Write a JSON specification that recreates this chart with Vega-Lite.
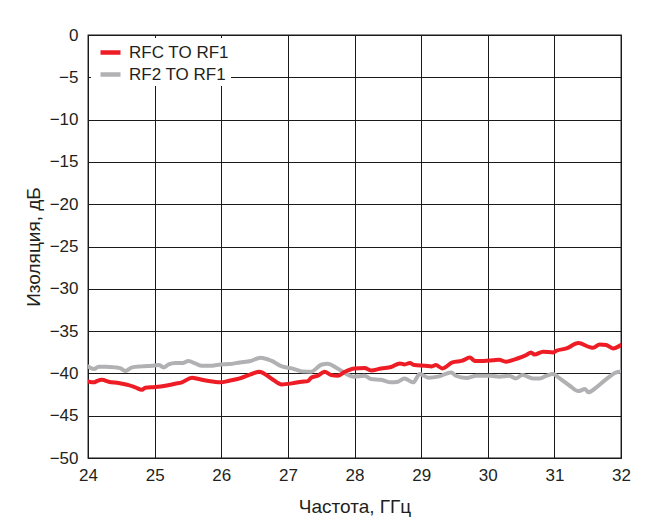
{
  "$schema": "https://vega.github.io/schema/vega-lite/v6.json",
  "width": 533,
  "height": 423,
  "autosize": "none",
  "padding": {"left": 88, "top": 35, "right": 25, "bottom": 73},
  "background": "white",
  "config": {
    "font": "Liberation Sans",
    "view": {"stroke": "#1a1a1a", "strokeWidth": 1.3},
    "axis": {
      "labelFont": "Liberation Sans",
      "titleFont": "Liberation Sans",
      "labelFontSize": 17,
      "titleFontSize": 19,
      "titleFontWeight": "normal",
      "labelColor": "#231f20",
      "titleColor": "#231f20",
      "grid": true,
      "gridColor": "#1a1a1a",
      "gridWidth": 1,
      "gridOpacity": 1,
      "ticks": false,
      "domain": false,
      "labelFlush": false,
      "labelOverlap": false
    },
    "legend": {
      "labelFont": "Liberation Sans",
      "labelFontSize": 17,
      "labelColor": "#231f20"
    }
  },
  "data": {
    "values": [
      {"f": 24.00, "v": -39.17, "s": "RF2 TO RF1"},
      {"f": 24.09, "v": -39.49, "s": "RF2 TO RF1"},
      {"f": 24.16, "v": -39.21, "s": "RF2 TO RF1"},
      {"f": 24.26, "v": -39.21, "s": "RF2 TO RF1"},
      {"f": 24.41, "v": -39.29, "s": "RF2 TO RF1"},
      {"f": 24.49, "v": -39.41, "s": "RF2 TO RF1"},
      {"f": 24.56, "v": -39.72, "s": "RF2 TO RF1"},
      {"f": 24.66, "v": -39.29, "s": "RF2 TO RF1"},
      {"f": 24.81, "v": -39.17, "s": "RF2 TO RF1"},
      {"f": 24.96, "v": -39.09, "s": "RF2 TO RF1"},
      {"f": 25.06, "v": -39.02, "s": "RF2 TO RF1"},
      {"f": 25.14, "v": -39.29, "s": "RF2 TO RF1"},
      {"f": 25.21, "v": -38.94, "s": "RF2 TO RF1"},
      {"f": 25.31, "v": -38.78, "s": "RF2 TO RF1"},
      {"f": 25.41, "v": -38.78, "s": "RF2 TO RF1"},
      {"f": 25.51, "v": -38.54, "s": "RF2 TO RF1"},
      {"f": 25.61, "v": -38.82, "s": "RF2 TO RF1"},
      {"f": 25.71, "v": -39.09, "s": "RF2 TO RF1"},
      {"f": 25.86, "v": -39.09, "s": "RF2 TO RF1"},
      {"f": 25.99, "v": -38.94, "s": "RF2 TO RF1"},
      {"f": 26.12, "v": -38.90, "s": "RF2 TO RF1"},
      {"f": 26.28, "v": -38.70, "s": "RF2 TO RF1"},
      {"f": 26.44, "v": -38.54, "s": "RF2 TO RF1"},
      {"f": 26.59, "v": -38.15, "s": "RF2 TO RF1"},
      {"f": 26.75, "v": -38.50, "s": "RF2 TO RF1"},
      {"f": 26.91, "v": -39.17, "s": "RF2 TO RF1"},
      {"f": 27.06, "v": -39.41, "s": "RF2 TO RF1"},
      {"f": 27.21, "v": -39.76, "s": "RF2 TO RF1"},
      {"f": 27.35, "v": -39.80, "s": "RF2 TO RF1"},
      {"f": 27.50, "v": -38.98, "s": "RF2 TO RF1"},
      {"f": 27.60, "v": -38.86, "s": "RF2 TO RF1"},
      {"f": 27.72, "v": -39.29, "s": "RF2 TO RF1"},
      {"f": 27.84, "v": -39.88, "s": "RF2 TO RF1"},
      {"f": 27.99, "v": -40.39, "s": "RF2 TO RF1"},
      {"f": 28.15, "v": -40.28, "s": "RF2 TO RF1"},
      {"f": 28.25, "v": -40.67, "s": "RF2 TO RF1"},
      {"f": 28.40, "v": -40.75, "s": "RF2 TO RF1"},
      {"f": 28.55, "v": -41.06, "s": "RF2 TO RF1"},
      {"f": 28.65, "v": -40.98, "s": "RF2 TO RF1"},
      {"f": 28.75, "v": -40.59, "s": "RF2 TO RF1"},
      {"f": 28.88, "v": -41.06, "s": "RF2 TO RF1"},
      {"f": 28.98, "v": -40.08, "s": "RF2 TO RF1"},
      {"f": 29.11, "v": -40.51, "s": "RF2 TO RF1"},
      {"f": 29.27, "v": -40.35, "s": "RF2 TO RF1"},
      {"f": 29.45, "v": -39.88, "s": "RF2 TO RF1"},
      {"f": 29.52, "v": -40.28, "s": "RF2 TO RF1"},
      {"f": 29.68, "v": -40.55, "s": "RF2 TO RF1"},
      {"f": 29.83, "v": -40.28, "s": "RF2 TO RF1"},
      {"f": 30.05, "v": -40.28, "s": "RF2 TO RF1"},
      {"f": 30.17, "v": -40.39, "s": "RF2 TO RF1"},
      {"f": 30.32, "v": -40.28, "s": "RF2 TO RF1"},
      {"f": 30.42, "v": -40.59, "s": "RF2 TO RF1"},
      {"f": 30.52, "v": -40.20, "s": "RF2 TO RF1"},
      {"f": 30.68, "v": -40.59, "s": "RF2 TO RF1"},
      {"f": 30.78, "v": -40.59, "s": "RF2 TO RF1"},
      {"f": 30.88, "v": -40.28, "s": "RF2 TO RF1"},
      {"f": 30.98, "v": -40.08, "s": "RF2 TO RF1"},
      {"f": 31.08, "v": -40.59, "s": "RF2 TO RF1"},
      {"f": 31.23, "v": -41.46, "s": "RF2 TO RF1"},
      {"f": 31.36, "v": -42.09, "s": "RF2 TO RF1"},
      {"f": 31.46, "v": -41.85, "s": "RF2 TO RF1"},
      {"f": 31.51, "v": -42.24, "s": "RF2 TO RF1"},
      {"f": 31.63, "v": -41.65, "s": "RF2 TO RF1"},
      {"f": 31.78, "v": -40.67, "s": "RF2 TO RF1"},
      {"f": 31.93, "v": -39.88, "s": "RF2 TO RF1"},
      {"f": 32.00, "v": -39.76, "s": "RF2 TO RF1"},

      {"f": 24.00, "v": -40.94, "s": "RFC TO RF1"},
      {"f": 24.09, "v": -41.06, "s": "RFC TO RF1"},
      {"f": 24.14, "v": -40.87, "s": "RFC TO RF1"},
      {"f": 24.21, "v": -40.75, "s": "RFC TO RF1"},
      {"f": 24.31, "v": -40.98, "s": "RFC TO RF1"},
      {"f": 24.46, "v": -41.14, "s": "RFC TO RF1"},
      {"f": 24.61, "v": -41.38, "s": "RFC TO RF1"},
      {"f": 24.71, "v": -41.65, "s": "RFC TO RF1"},
      {"f": 24.81, "v": -41.93, "s": "RFC TO RF1"},
      {"f": 24.86, "v": -41.69, "s": "RFC TO RF1"},
      {"f": 25.01, "v": -41.61, "s": "RFC TO RF1"},
      {"f": 25.16, "v": -41.46, "s": "RFC TO RF1"},
      {"f": 25.31, "v": -41.22, "s": "RFC TO RF1"},
      {"f": 25.41, "v": -41.06, "s": "RFC TO RF1"},
      {"f": 25.56, "v": -40.51, "s": "RFC TO RF1"},
      {"f": 25.66, "v": -40.67, "s": "RFC TO RF1"},
      {"f": 25.81, "v": -40.91, "s": "RFC TO RF1"},
      {"f": 25.99, "v": -41.06, "s": "RFC TO RF1"},
      {"f": 26.12, "v": -40.87, "s": "RFC TO RF1"},
      {"f": 26.28, "v": -40.59, "s": "RFC TO RF1"},
      {"f": 26.44, "v": -40.12, "s": "RFC TO RF1"},
      {"f": 26.57, "v": -39.80, "s": "RFC TO RF1"},
      {"f": 26.75, "v": -40.59, "s": "RFC TO RF1"},
      {"f": 26.91, "v": -41.30, "s": "RFC TO RF1"},
      {"f": 27.06, "v": -41.18, "s": "RFC TO RF1"},
      {"f": 27.21, "v": -40.98, "s": "RFC TO RF1"},
      {"f": 27.30, "v": -40.91, "s": "RFC TO RF1"},
      {"f": 27.35, "v": -40.51, "s": "RFC TO RF1"},
      {"f": 27.45, "v": -40.28, "s": "RFC TO RF1"},
      {"f": 27.55, "v": -39.80, "s": "RFC TO RF1"},
      {"f": 27.65, "v": -40.20, "s": "RFC TO RF1"},
      {"f": 27.75, "v": -40.28, "s": "RFC TO RF1"},
      {"f": 27.84, "v": -39.88, "s": "RFC TO RF1"},
      {"f": 28.00, "v": -39.41, "s": "RFC TO RF1"},
      {"f": 28.15, "v": -39.37, "s": "RFC TO RF1"},
      {"f": 28.25, "v": -39.65, "s": "RFC TO RF1"},
      {"f": 28.40, "v": -39.41, "s": "RFC TO RF1"},
      {"f": 28.55, "v": -39.25, "s": "RFC TO RF1"},
      {"f": 28.68, "v": -38.82, "s": "RFC TO RF1"},
      {"f": 28.75, "v": -38.94, "s": "RFC TO RF1"},
      {"f": 28.83, "v": -38.78, "s": "RFC TO RF1"},
      {"f": 28.90, "v": -39.02, "s": "RFC TO RF1"},
      {"f": 29.06, "v": -39.09, "s": "RFC TO RF1"},
      {"f": 29.16, "v": -39.17, "s": "RFC TO RF1"},
      {"f": 29.22, "v": -39.02, "s": "RFC TO RF1"},
      {"f": 29.32, "v": -39.41, "s": "RFC TO RF1"},
      {"f": 29.47, "v": -38.70, "s": "RFC TO RF1"},
      {"f": 29.62, "v": -38.50, "s": "RFC TO RF1"},
      {"f": 29.73, "v": -38.11, "s": "RFC TO RF1"},
      {"f": 29.81, "v": -38.54, "s": "RFC TO RF1"},
      {"f": 29.94, "v": -38.54, "s": "RFC TO RF1"},
      {"f": 30.08, "v": -38.45, "s": "RFC TO RF1"},
      {"f": 30.17, "v": -38.39, "s": "RFC TO RF1"},
      {"f": 30.27, "v": -38.62, "s": "RFC TO RF1"},
      {"f": 30.42, "v": -38.31, "s": "RFC TO RF1"},
      {"f": 30.58, "v": -37.83, "s": "RFC TO RF1"},
      {"f": 30.65, "v": -37.52, "s": "RFC TO RF1"},
      {"f": 30.70, "v": -37.76, "s": "RFC TO RF1"},
      {"f": 30.83, "v": -37.44, "s": "RFC TO RF1"},
      {"f": 30.98, "v": -37.52, "s": "RFC TO RF1"},
      {"f": 31.03, "v": -37.32, "s": "RFC TO RF1"},
      {"f": 31.18, "v": -37.05, "s": "RFC TO RF1"},
      {"f": 31.36, "v": -36.42, "s": "RFC TO RF1"},
      {"f": 31.53, "v": -36.89, "s": "RFC TO RF1"},
      {"f": 31.58, "v": -36.97, "s": "RFC TO RF1"},
      {"f": 31.68, "v": -36.57, "s": "RFC TO RF1"},
      {"f": 31.78, "v": -36.65, "s": "RFC TO RF1"},
      {"f": 31.88, "v": -37.05, "s": "RFC TO RF1"},
      {"f": 32.00, "v": -36.65, "s": "RFC TO RF1"}
    ]
  },
  "mark": {"type": "line", "strokeWidth": 4, "strokeJoin": "round", "strokeCap": "round", "interpolate": "monotone", "clip": true},
  "encoding": {
    "x": {
      "field": "f",
      "type": "quantitative",
      "scale": {"domain": [24, 32], "nice": false, "zero": false},
      "axis": {"values": [24, 25, 26, 27, 28, 29, 30, 31, 32], "format": "d", "labelPadding": 9, "title": "Частота, ГГц", "titlePadding": 14}
    },
    "y": {
      "field": "v",
      "type": "quantitative",
      "scale": {"domain": [-50, 0], "nice": false, "zero": false},
      "axis": {"values": [-50, -45, -40, -35, -30, -25, -20, -15, -10, -5, 0], "format": "d", "labelPadding": 10, "title": "Изоляция, дБ", "titlePadding": 6}
    },
    "color": {
      "field": "s",
      "type": "nominal",
      "scale": {"domain": ["RFC TO RF1", "RF2 TO RF1"], "range": ["#ee1c25", "#b1b1b3"]},
      "legend": {
        "title": null,
        "orient": "top-left",
        "offset": 3,
        "padding": 2,
        "fillColor": "white",
        "symbolType": "stroke",
        "symbolStrokeWidth": 4.5,
        "symbolSize": 400,
        "symbolOffset": 5,
        "rowPadding": 0,
        "labelOffset": 6
      }
    },
    "order": {"field": "f", "type": "quantitative"}
  }
}
